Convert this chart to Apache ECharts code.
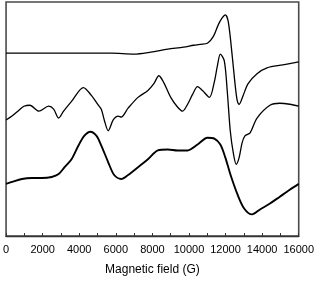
<!DOCTYPE html>
<html>
<head>
<meta charset="utf-8">
<script src="https://cdn.jsdelivr.net/npm/echarts@6/dist/echarts.min.js"></script>
<style>html,body{margin:0;padding:0;background:#fff}#c{width:317px;height:281px}</style>
</head>
<body>
<div id="c"></div>
<script>
// Magnetic field (G) and intensity (a.u.) for each spectrum
var fieldTop = [0,1953,4122,5749,6997,7919,8841,9709,10251,10631,11010,11336,11607,11824,11986,12149,12366,12529,12637,12746,12963,13234,13722,14264,15132,16000];
var sigTop   = [186,186,186,186,185,187,190,192,194,195,196,203,215,222,225,218,183,153,138,134,143,155,165,171,174,177];

var fieldMid = [0,325,705,976,1302,1790,2332,2603,2875,3146,3580,4231,4664,5044,5207,5369,5586,5858,6129,6292,6671,7214,7756,8081,8353,8624,9003,9383,9654,9925,10197,10468,10739,11119,11390,11553,11715,11932,12095,12258,12420,12583,12746,12908,13071,13342,13722,14427,14969,15512,16000];
var sigMid   = [118,122,128,132,133,127,132,129,120,127,137,151,143,133,129,118,107,118,122,121,130,141,148,155,163,156,141,131,127,134,144,152,148,141,157,173,185,178,147,107,85,73,80,95,102,105,120,133,135,134,132];

var fieldBot = [0,325,868,1410,1953,2495,2875,3200,3580,3959,4285,4610,4936,5207,5586,5912,6292,6671,7214,7756,8298,8841,9383,9925,10468,11010,11390,11715,11986,12258,12637,13017,13451,13885,14427,14969,15512,16000];
var sigBot   = [53,55,58,59,59,60,63,70,78,92,102,106,102,92,75,62,58,62,70,78,87,88,87,87,93,100,99,93,80,63,43,28,22,27,33,40,47,53];

var xTicks = {min: 0, max: 16000, interval: 2000};

function pairs(xs, ys){ return xs.map(function(x,i){ return [x, ys[i]]; }); }

var chart = echarts.init(document.getElementById('c'), null, {renderer: 'canvas'});
var lineBase = {type: 'line', showSymbol: false, smooth: 0.3, silent: true, animation: false};
chart.setOption({
  animation: false,
  grid: {left: 4, right: 18, top: 2, bottom: 41, show: true, borderColor: '#4a4a4a', borderWidth: 1.6, backgroundColor: 'transparent'},
  xAxis: {
    type: 'value', min: xTicks.min, max: xTicks.max, interval: xTicks.interval,
    name: 'Magnetic field (G)', nameLocation: 'middle', nameGap: 28,
    nameTextStyle: {fontFamily: 'Liberation Sans, Arial', fontSize: 12, color: '#000'},
    axisLine: {show: true, lineStyle: {color: '#333', width: 1.4}},
    axisTick: {show: true, inside: true, length: 3, lineStyle: {color: '#333'}},
    minorTick: {show: true, splitNumber: 2, length: 3, lineStyle: {color: '#333'}},
    axisLabel: {fontFamily: 'Liberation Sans, Arial', fontSize: 11, color: '#000', margin: 8,
      formatter: function(v){ return String(v); }},
    splitLine: {show: false}
  },
  yAxis: {type: 'value', min: 0, max: 238, show: false},
  series: [
    Object.assign({}, lineBase, {data: pairs(fieldTop, sigTop), lineStyle: {color: '#000', width: 1.3}}),
    Object.assign({}, lineBase, {data: pairs(fieldMid, sigMid), lineStyle: {color: '#000', width: 1.3}}),
    Object.assign({}, lineBase, {data: pairs(fieldBot, sigBot), lineStyle: {color: '#000', width: 1.9}})
  ]
});
</script>
</body>
</html>
